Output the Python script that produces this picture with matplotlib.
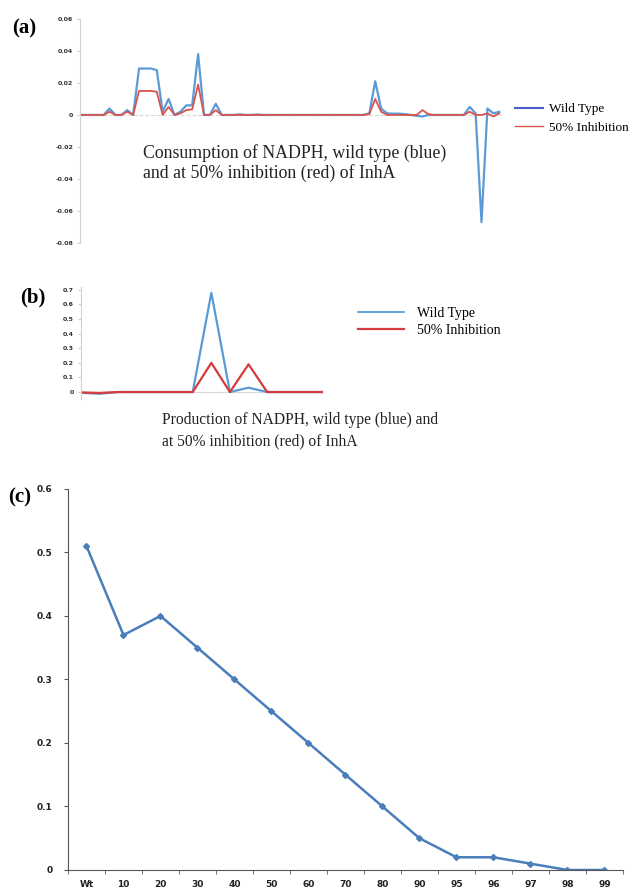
import matplotlib.pyplot as plt
from matplotlib.lines import Line2D
import numpy as np


# (a) consumption of NADPH, 72 reactions
cons_wt = [0, 0, 0, 0, 0, 0.004, 0, 0, 0.003, 0,
           0.029, 0.029, 0.029, 0.028, 0.002, 0.010, 0, 0.002, 0.006, 0.006,
           0.038, 0, 0, 0.007, 0, 0, 0, 0.0004, 0, 0,
           0.0003, 0, 0, 0, 0, 0, 0, 0, 0, 0,
           0, 0, 0, 0, 0, 0, 0, 0, 0, 0.001,
           0.021, 0.004, 0.001, 0.0008, 0.0008, 0.0005, 0, -0.0005, -0.001, 0,
           0, 0, 0, 0, 0, 0, 0.005, 0.001, -0.067, 0.004,
           0.001, 0.002]
cons_inh = [0, 0, 0, 0, 0, 0.002, 0, 0, 0.002, 0,
            0.015, 0.015, 0.015, 0.0145, 0, 0.005, 0, 0.001, 0.003, 0.0035,
            0.019, 0, 0, 0.003, 0, 0, 0, 0, 0, 0,
            0, 0, 0, 0, 0, 0, 0, 0, 0, 0,
            0, 0, 0, 0, 0, 0, 0, 0, 0, 0.0005,
            0.010, 0.002, 0, 0, 0, 0, 0, 0, 0.003, 0.0005,
            0, 0, 0, 0, 0, 0, 0.002, 0, 0, 0.001,
            -0.001, 0.001]
cons_ticks = [0.06, 0.04, 0.02, 0, -0.02, -0.04, -0.06, -0.08]

# (b) production of NADPH, 14 reactions
prod_wt = [-0.005, -0.012, 0, 0, 0, 0, 0, 0.68, 0, 0.03, 0, 0, 0, 0]
prod_inh = [-0.003, -0.006, 0, 0, 0, 0, 0, 0.20, 0, 0.19, 0, 0, 0, 0]
prod_ticks = [0, 0.1, 0.2, 0.3, 0.4, 0.5, 0.6, 0.7]

# (c) flux vs % inhibition
inhib = ["Wt", "10", "20", "30", "40", "50", "60", "70", "80", "90",
         "95", "96", "97", "98", "99"]
flux = [0.51, 0.37, 0.40, 0.35, 0.30, 0.25, 0.20, 0.15, 0.10, 0.05,
        0.02, 0.02, 0.01, 0, 0]
flux_ticks = [0, 0.1, 0.2, 0.3, 0.4, 0.5, 0.6]

serif = "Liberation Serif"

fig = plt.figure(figsize=(6.32, 8.89), dpi=100)

# ---- panel a
ax1 = fig.add_axes([0.1266, 0.7267, 0.668, 0.252])
ax1.plot(range(len(cons_wt)), cons_wt, color="#5b9bd5", lw=1.6)
ax1.plot(range(len(cons_inh)), cons_inh, color="#d9534f", lw=1.3)
ax1.axhline(0, color="#d8d8d8", lw=0.8, ls="--", zorder=0)
ax1.set_xlim(0, 71.5)
ax1.set_ylim(-0.08, 0.06)
ax1.set_yticks(cons_ticks)
ax1.set_yticklabels([("%g" % t) for t in cons_ticks], fontsize=4.5,
                    fontweight="bold", color="#333333")
ax1.set_xticks([])
for s in ["top", "right", "bottom"]:
    ax1.spines[s].set_visible(False)
ax1.spines["left"].set_color("#d0d0d0")
ax1.tick_params(axis="y", length=2, color="#d0d0d0", pad=3)
ax1.text(0.149, 0.44, "Consumption of NADPH, wild type (blue)\n"
         "and at 50% inhibition (red) of InhA", transform=ax1.transAxes,
         family=serif, fontsize=12.8, color="#222222", va="top",
         linespacing=1.15)
h1 = [Line2D([], [], color="#4a5ccf", lw=1.5),
      Line2D([], [], color="#d9534f", lw=1.0)]
fig.legend(h1, ["Wild Type", "50% Inhibition"], loc="upper left",
           bbox_to_anchor=(0.815, 0.884), frameon=False, borderpad=0,
           borderaxespad=0, handlelength=2.1, handletextpad=0.45,
           labelspacing=0.45, prop={"family": serif, "size": 9.5})

# ---- panel b
ax2 = fig.add_axes([0.1282, 0.5508, 0.3829, 0.1264])
ax2.plot(range(len(prod_wt)), prod_wt, color="#5b9bd5", lw=1.6)
ax2.plot(range(len(prod_inh)), prod_inh, color="#d63a3a", lw=1.6)
ax2.axhline(0, color="#d8d8d8", lw=0.8, zorder=0)
ax2.set_xlim(0, 13)
ax2.set_ylim(-0.05, 0.72)
ax2.set_yticks(prod_ticks)
ax2.set_yticklabels([("%g" % t) for t in prod_ticks], fontsize=4.5,
                    fontweight="bold", color="#333333")
ax2.set_xticks([])
for s in ["top", "right", "bottom"]:
    ax2.spines[s].set_visible(False)
ax2.spines["left"].set_color("#d0d0d0")
ax2.tick_params(axis="y", length=2, color="#d0d0d0", pad=3)
h2 = [Line2D([], [], color="#5b9bd5", lw=1.3),
      Line2D([], [], color="#d63a3a", lw=1.6)]
fig.legend(h2, ["Wild Type", "50% Inhibition"], loc="upper left",
           bbox_to_anchor=(0.566, 0.655), frameon=False, borderpad=0,
           borderaxespad=0, handlelength=3.3, handletextpad=1.0,
           labelspacing=0.3, prop={"family": serif, "size": 10})
fig.text(162 / 632, 1 - 412 / 889, "Production of NADPH, wild type (blue) and\n"
         "at 50% inhibition (red) of InhA", family=serif, fontsize=11.2,
         color="#222222", va="top", linespacing=1.45)

# ---- panel c
ax3 = fig.add_axes([0.1076, 0.0214, 0.878, 0.4286])
x = np.arange(len(inhib))
ax3.plot(x, flux, color="#4a7ebb", lw=1.8, marker="D", ms=3)
ax3.set_xlim(-0.5, len(inhib) - 0.5)
ax3.set_ylim(0, 0.6)
ax3.set_yticks(flux_ticks)
ax3.set_yticklabels([("%g" % t) for t in flux_ticks], fontsize=6.5,
                    fontweight="bold", color="#222222")
ax3.set_xticks(x)
ax3.set_xticklabels(inhib, fontsize=6.5, fontweight="bold", color="#222222")
ax3.set_xticks(np.arange(-0.5, len(inhib)), minor=True)
ax3.tick_params(axis="x", which="major", length=0, pad=7)
ax3.tick_params(axis="x", which="minor", length=3, color="#555555")
ax3.tick_params(axis="y", length=3, color="#555555", pad=8)
for s in ["top", "right"]:
    ax3.spines[s].set_visible(False)
ax3.spines["left"].set_color("#555555")
ax3.spines["bottom"].set_color("#555555")

# panel letters
fig.text(12 / 632, 1 - 28 / 889, "(a)", family=serif, fontsize=15,
         fontweight="bold", va="center")
fig.text(20 / 632, 1 - 297 / 889, "(b)", family=serif, fontsize=15,
         fontweight="bold", va="center")
fig.text(8 / 632, 1 - 497 / 889, "(c)", family=serif, fontsize=15,
         fontweight="bold", va="center")

fig.savefig("out.png", dpi=100)
